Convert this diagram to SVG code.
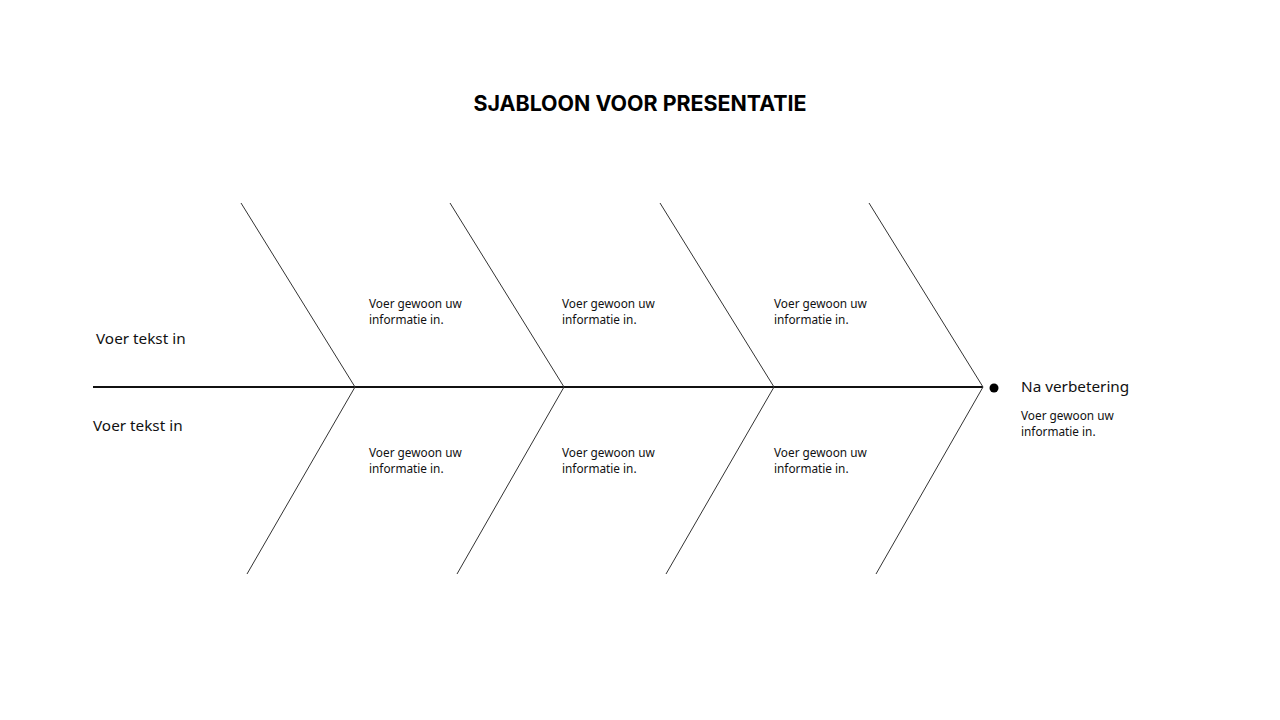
<svg xmlns="http://www.w3.org/2000/svg" width="1280" height="720" viewBox="0 0 1280 720">
<style>
.bone{stroke:#333;stroke-width:1;fill:none}
.spine{stroke:#111;stroke-width:2;fill:none}
.title{font-family:Inter,"Liberation Sans",sans-serif;font-weight:700;font-size:21.4px;fill:#000}
.lbl{font-family:"Noto Sans","Open Sans",sans-serif;font-size:15.3px;fill:#111}
.sm{font-family:"Noto Sans","Open Sans",sans-serif;font-size:11.8px;fill:#111}
</style>
<rect width="1280" height="720" fill="#fff"/>
<text class="title" x="640" y="111" text-anchor="middle">SJABLOON VOOR PRESENTATIE</text>
<g id="connectors">
<line class="spine" x1="93" y1="387" x2="983" y2="387"/>
<polyline class="bone" points="241,203 355,387 247,574"/>
<polyline class="bone" points="450,203 564,387 457,574"/>
<polyline class="bone" points="660,203 774,387 666,574"/>
<polyline class="bone" points="869,203 983,387 876,574"/>
</g>
<g id="head-top"><text class="lbl" x="96" y="344">Voer tekst in</text></g>
<g id="head-bottom"><text class="lbl" x="93" y="431">Voer tekst in</text></g>
<g id="c1-top"><text class="sm" x="369" y="308">Voer gewoon uw</text><text class="sm" x="369" y="324">informatie in.</text></g>
<g id="c2-top"><text class="sm" x="562" y="308">Voer gewoon uw</text><text class="sm" x="562" y="324">informatie in.</text></g>
<g id="c3-top"><text class="sm" x="774" y="308">Voer gewoon uw</text><text class="sm" x="774" y="324">informatie in.</text></g>
<g id="c1-bottom"><text class="sm" x="369" y="457">Voer gewoon uw</text><text class="sm" x="369" y="473">informatie in.</text></g>
<g id="c2-bottom"><text class="sm" x="562" y="457">Voer gewoon uw</text><text class="sm" x="562" y="473">informatie in.</text></g>
<g id="c3-bottom"><text class="sm" x="774" y="457">Voer gewoon uw</text><text class="sm" x="774" y="473">informatie in.</text></g>
<g id="result">
<circle cx="994" cy="388" r="4.5" fill="#000"/>
<text class="lbl" x="1021" y="392">Na verbetering</text>
<text class="sm" x="1021" y="420">Voer gewoon uw</text>
<text class="sm" x="1021" y="436">informatie in.</text>
</g>
</svg>
